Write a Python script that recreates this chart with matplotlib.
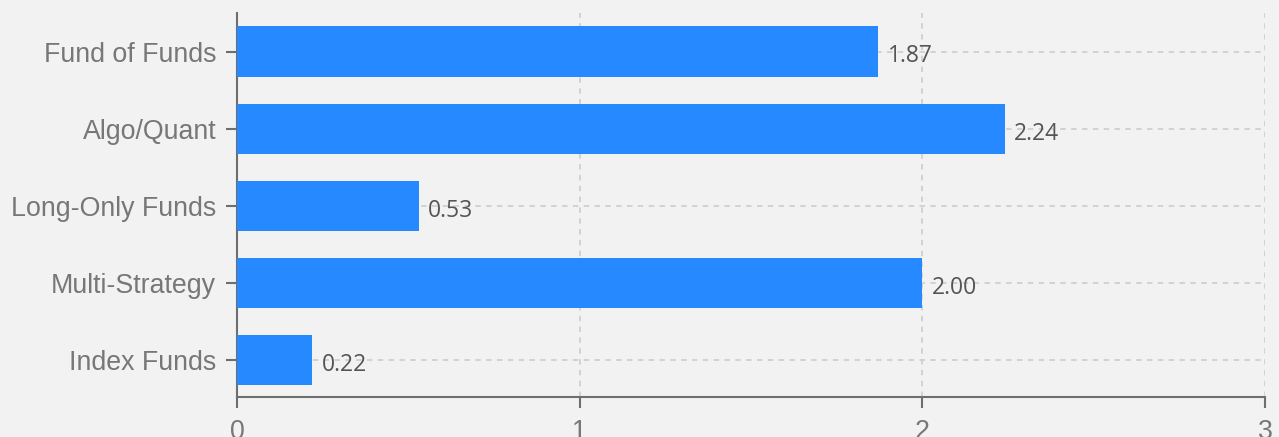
import matplotlib.pyplot as plt

categories = ["Index Funds", "Multi-Strategy", "Long-Only Funds", "Algo/Quant", "Fund of Funds"]
values = [0.22, 2.00, 0.53, 2.24, 1.87]
xticks = [0, 1, 2, 3]

bg = "#f2f2f2"
bar_color = "#2689ff"
axis_color = "#6e6e6e"

fig = plt.figure(figsize=(12.79, 4.37), dpi=100, facecolor=bg)
ax = fig.add_axes([237 / 1279, 40 / 437, 1028 / 1279, 384 / 437])
ax.set_facecolor(bg)

pos = list(range(len(categories)))
ax.barh(pos, values, height=0.65, color=bar_color, zorder=3)

for p, v in zip(pos, values):
	ax.annotate(f"{v:.2f}", xy=(v, p), xytext=(7, -3.5), textcoords="offset points",
		va="center", ha="left", fontsize=16.5, color="#555555", family="Open Sans", zorder=4)

ax.set_xlim(0, 3)
ax.set_ylim(-0.48, 4.5)
ax.set_xticks(xticks)
ax.set_xticklabels([str(t) for t in xticks])
ax.set_yticks(pos)
ax.set_yticklabels(categories)

for lbl in ax.get_xticklabels() + ax.get_yticklabels():
	lbl.set_family("Liberation Sans")
	lbl.set_fontsize(19.3)
	lbl.set_color("#777777")

ax.tick_params(axis="both", length=8, width=1.5, color=axis_color)
ax.tick_params(axis="y", pad=7)
ax.tick_params(axis="x", pad=8)

ax.grid(True, linestyle=(0, (3, 3)), color="#cfcfcf", linewidth=1.3, zorder=0)
ax.set_axisbelow(True)

for s in ["top", "right"]:
	ax.spines[s].set_visible(False)
for s in ["left", "bottom"]:
	ax.spines[s].set_color(axis_color)
	ax.spines[s].set_linewidth(1.5)

fig.savefig("out.png", dpi=100, facecolor=bg)
